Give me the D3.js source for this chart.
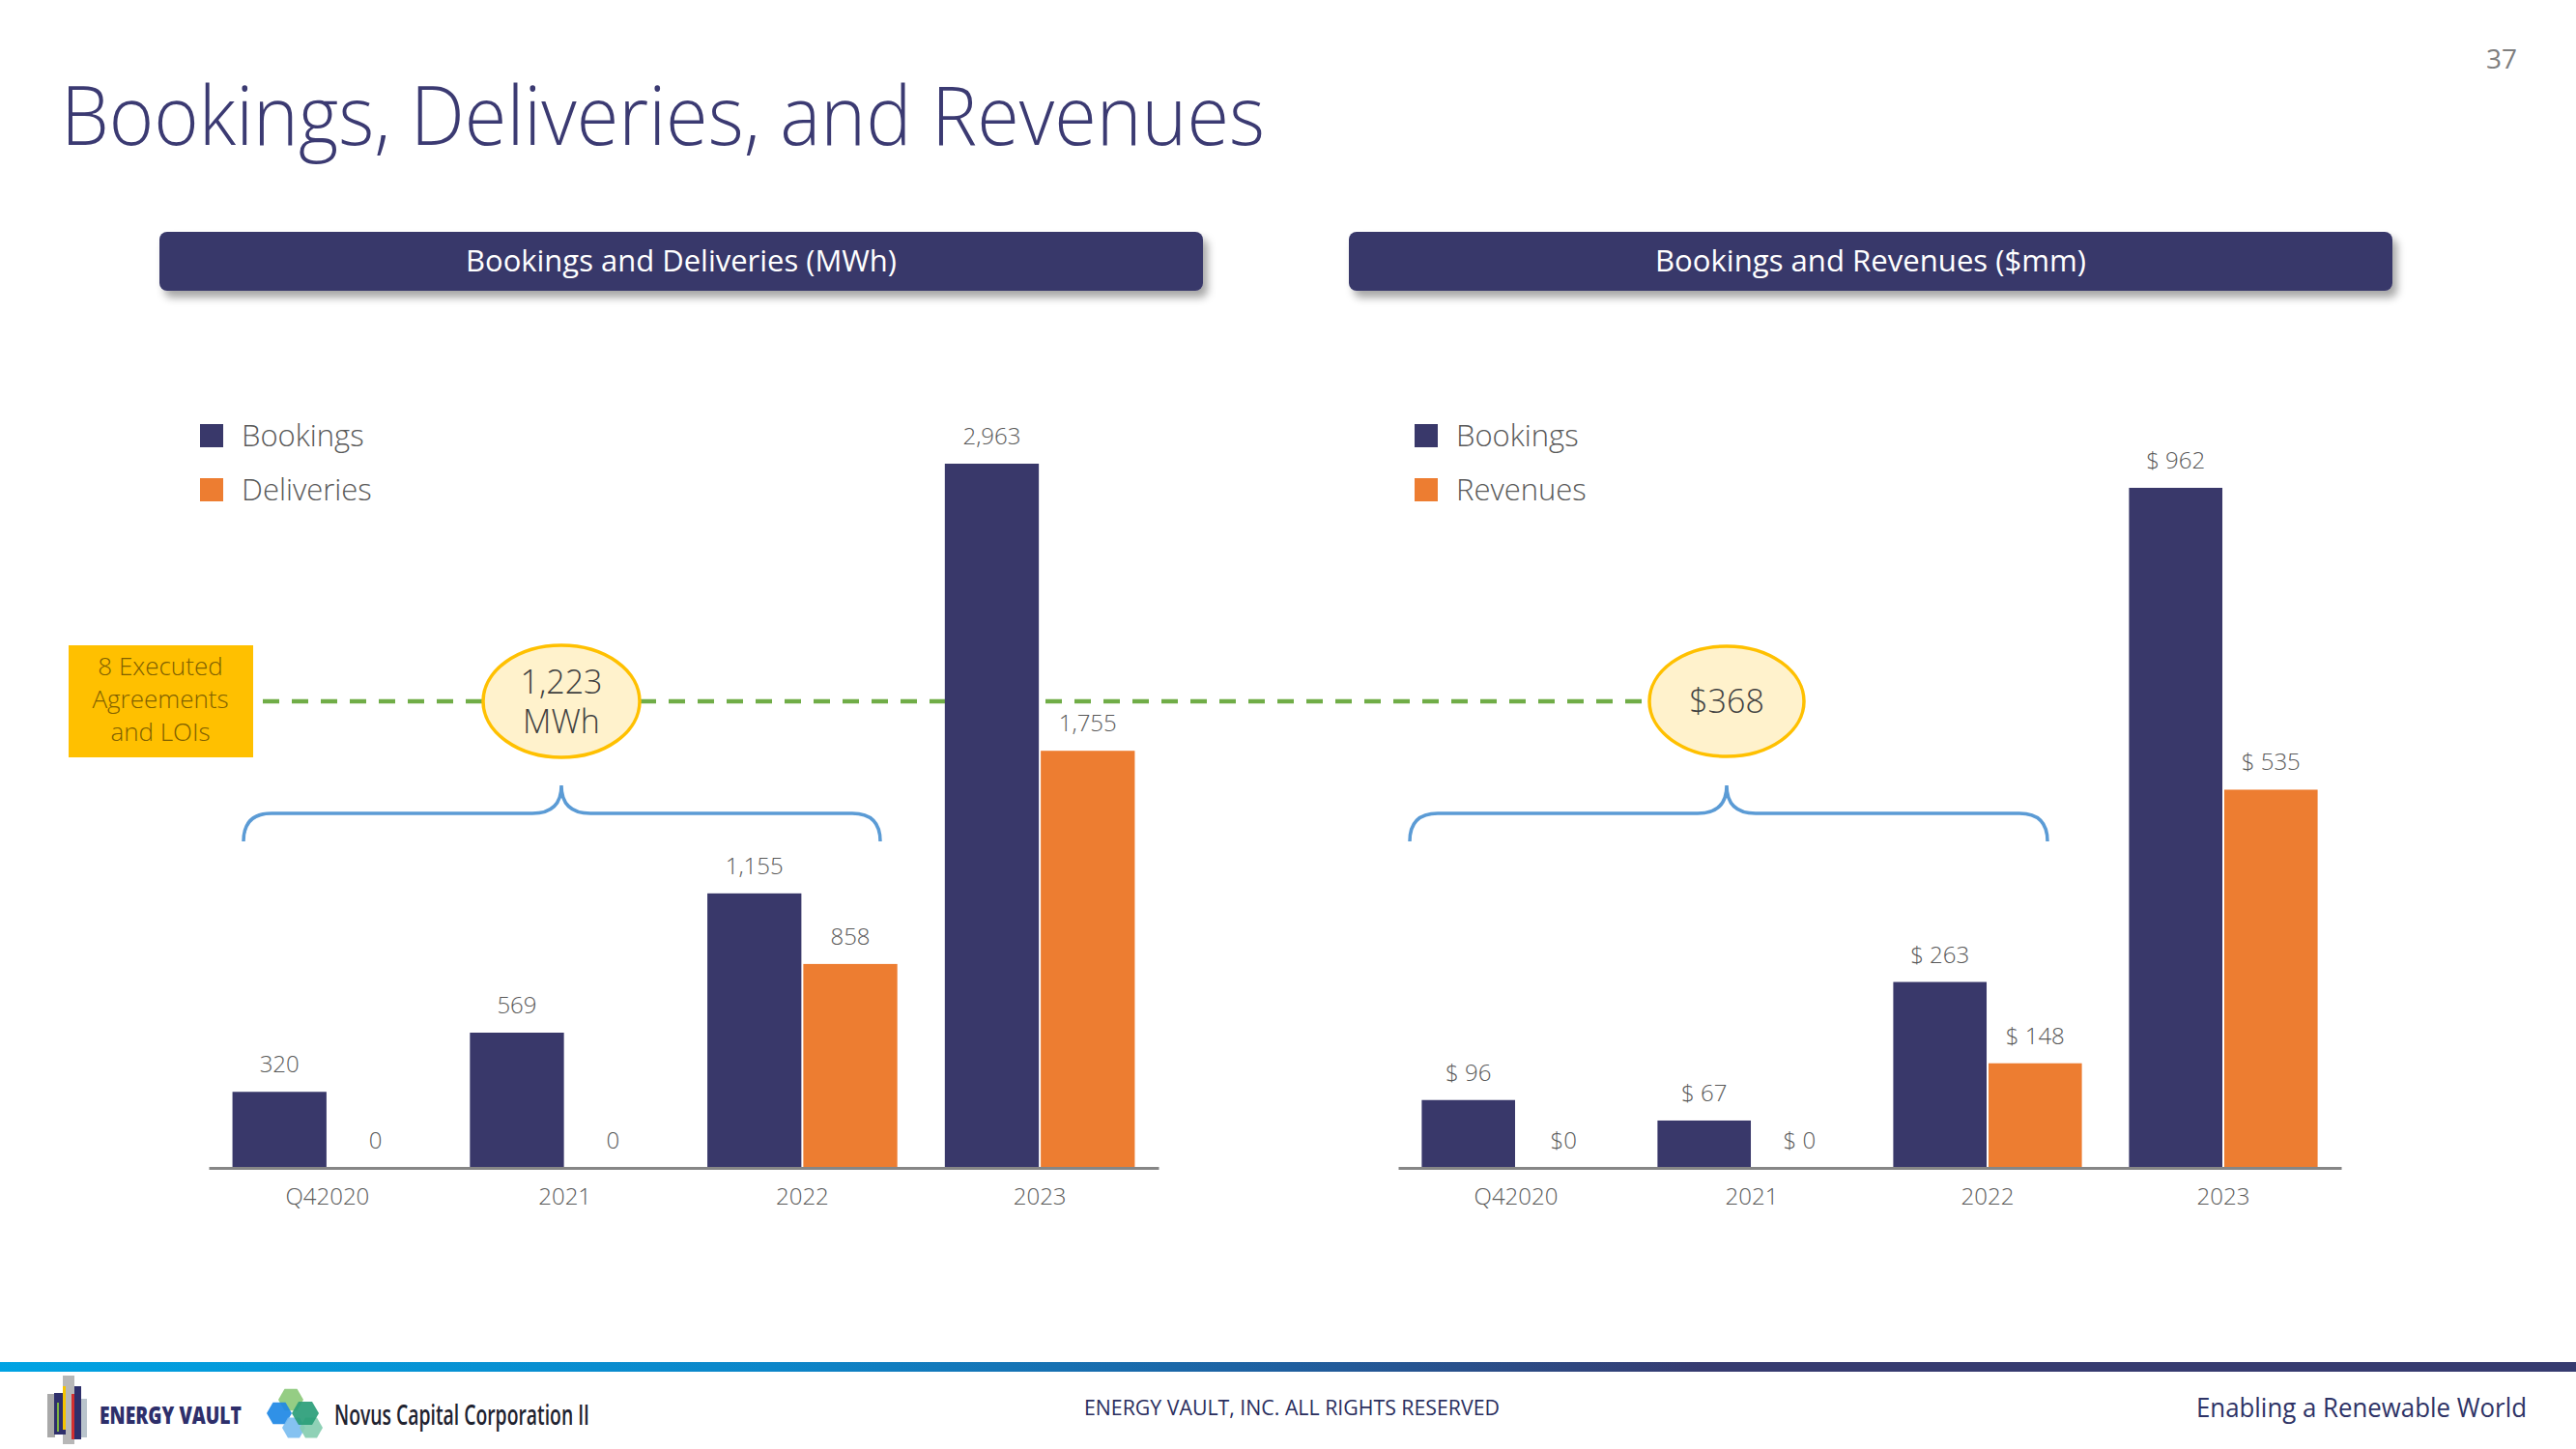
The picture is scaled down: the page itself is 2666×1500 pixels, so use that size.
<!DOCTYPE html>
<html>
<head>
<meta charset="utf-8">
<script src="https://cdn.jsdelivr.net/npm/d3@7"></script>
<style>
  html, body { margin: 0; padding: 0; background: #ffffff; }
  svg { display: block; font-family: "Open Sans", "Noto Sans", sans-serif; }
</style>
</head>
<body>
<svg id="chart" width="2666" height="1500"></svg>
<script>
// ---------------- DATA ----------------
const categories = ["Q42020", "2021", "2022", "2023"];
const seriesKeys = ["bookings", "second"];

const mwhBookings = [320, 569, 1155, 2963];
const mwhDeliveries = [0, 0, 858, 1755];

const usdBookings = [96, 67, 263, 962];
const usdRevenues = [0, 0, 148, 535];
const usdBookingLabels = ["$ 96", "$ 67", "$ 263", "$ 962"];
const usdRevenueLabels = ["$0", "$ 0", "$ 148", "$ 535"];

const leftLegend = ["Bookings", "Deliveries"];
const rightLegend = ["Bookings", "Revenues"];

const pageTitle = "Bookings, Deliveries, and Revenues";
const leftHeader = "Bookings and Deliveries (MWh)";
const rightHeader = "Bookings and Revenues ($mm)";
const executedLines = ["8 Executed", "Agreements", "and LOIs"];
const mwhBubble = ["1,223", "MWh"];
const usdBubble = ["$368"];

// ---------------- STYLE ----------------
const NAVY = "#39386a";
const ORANGE = "#ed7d31";
const LABEL = "#595959";

const svg = d3.select("#chart");
const defs = svg.append("defs");

const shadow = defs.append("filter").attr("id", "shadow")
  .attr("x", "-5%").attr("y", "-30%").attr("width", "115%").attr("height", "190%");
shadow.append("feDropShadow").attr("dx", 5).attr("dy", 7).attr("stdDeviation", 4)
  .attr("flood-color", "#000").attr("flood-opacity", 0.35);

const grad = defs.append("linearGradient").attr("id", "footerGrad")
  .attr("x1", "0%").attr("x2", "100%").attr("y1", "0%").attr("y2", "0%");
[["0%", "#00a3e3"], ["30%", "#0c86c9"], ["50%", "#1f5f9f"], ["66%", "#363b70"], ["100%", "#363b70"]]
  .forEach(([o, c]) => grad.append("stop").attr("offset", o).attr("stop-color", c));

// ---------------- TITLE ----------------
svg.append("text")
  .attr("x", 63).attr("y", 150)
  .attr("font-size", 84).attr("font-weight", 300)
  .attr("fill", "#3b3a72")
  .attr("textLength", 1246).attr("lengthAdjust", "spacingAndGlyphs")
  .text(pageTitle);

svg.append("text")
  .attr("x", 2605).attr("y", 71).attr("text-anchor", "end")
  .attr("font-size", 28).attr("fill", "#7f7f7f")
  .text("37");

// ---------------- HEADER BOXES ----------------
function headerBox(x, w, label) {
  svg.append("rect").attr("x", x).attr("y", 240).attr("width", w).attr("height", 61)
    .attr("rx", 8).attr("fill", NAVY).attr("filter", "url(#shadow)");
  svg.append("text").attr("x", x + w / 2).attr("y", 281)
    .attr("text-anchor", "middle").attr("font-size", 31).attr("fill", "#ffffff")
    .attr("textLength", 446).attr("lengthAdjust", "spacingAndGlyphs")
    .text(label);
}
headerBox(165, 1080, leftHeader);
headerBox(1396, 1080, rightHeader);

// ---------------- ANNOTATION BACK LAYER (dashed line) ----------------
const annBack = svg.append("g");
annBack.append("line")
  .attr("x1", 272).attr("x2", 1707).attr("y1", 726).attr("y2", 726)
  .attr("stroke", "#70ad47").attr("stroke-width", 4.5)
  .attr("stroke-dasharray", "17,13");

// ---------------- CHART FUNCTION ----------------
function drawChart(opts) {
  const g = svg.append("g");
  const data = categories.map((c, i) => ({
    cat: c,
    vals: [
      { key: "bookings", v: opts.s1[i], label: opts.l1[i], color: NAVY },
      { key: "second", v: opts.s2[i], label: opts.l2[i], color: ORANGE }
    ]
  }));

  const x0 = d3.scaleBand().domain(categories).range([opts.x0, opts.x1])
    .paddingInner(0.2).paddingOuter(0.1);
  const x1 = d3.scaleBand().domain(seriesKeys).range([0, x0.bandwidth()]).paddingInner(0.02);
  const y = d3.scaleLinear().domain([0, d3.max(opts.s1)]).range([opts.base, opts.top]);

  const groups = g.selectAll("g.grp").data(data).join("g")
    .attr("class", "grp")
    .attr("transform", d => `translate(${x0(d.cat)},0)`);

  groups.selectAll("rect").data(d => d.vals).join("rect")
    .attr("x", d => x1(d.key))
    .attr("y", d => y(d.v))
    .attr("width", x1.bandwidth())
    .attr("height", d => opts.base - y(d.v))
    .attr("fill", d => d.color);

  groups.selectAll("text.val").data(d => d.vals).join("text")
    .attr("class", "val")
    .attr("x", d => x1(d.key) + x1.bandwidth() / 2)
    .attr("y", d => y(d.v) - 20)
    .attr("text-anchor", "middle")
    .attr("font-size", 24).attr("font-weight", 300).attr("fill", LABEL)
    .text(d => d.label);

  const axis = g.append("g").attr("transform", `translate(0,${opts.base})`)
    .call(d3.axisBottom(x0).tickSize(0).tickSizeOuter(0).tickPadding(21));
  axis.select(".domain").attr("stroke", "#868686").attr("stroke-width", 3);
  axis.selectAll(".tick text").attr("font-size", 24).attr("font-weight", 300).attr("fill", LABEL)
    .attr("font-family", "'Open Sans', 'Noto Sans', sans-serif");

  // legend
  const lg = g.append("g");
  opts.legend.forEach((name, i) => {
    const yy = 451 + i * 56;
    lg.append("rect").attr("x", opts.legendX).attr("y", yy - 12).attr("width", 24).attr("height", 24)
      .attr("fill", i === 0 ? NAVY : ORANGE);
    lg.append("text").attr("x", opts.legendX + 43).attr("y", yy + 11)
      .attr("font-size", 31).attr("font-weight", 300).attr("fill", LABEL).text(name);
  });
}

drawChart({
  x0: 216, x1: 1199, base: 1209, top: 480,
  s1: mwhBookings, s2: mwhDeliveries,
  l1: mwhBookings.map(d3.format(",")), l2: mwhDeliveries.map(d3.format(",")),
  legend: leftLegend, legendX: 207
});

drawChart({
  x0: 1447, x1: 2423, base: 1209, top: 505,
  s1: usdBookings, s2: usdRevenues,
  l1: usdBookingLabels, l2: usdRevenueLabels,
  legend: rightLegend, legendX: 1464
});

// ---------------- ANNOTATIONS (front) ----------------
const ann = svg.append("g");

// executed agreements box
ann.append("rect").attr("x", 71).attr("y", 668).attr("width", 191).attr("height", 116)
  .attr("fill", "#ffc000");
executedLines.forEach((t, i) => {
  ann.append("text").attr("x", 166).attr("y", 699 + i * 34)
    .attr("text-anchor", "middle").attr("font-size", 26).attr("font-weight", 300).attr("fill", "#7f6000")
    .text(t);
});

// bubbles
function bubble(cx, cy, rx, ry, lines) {
  ann.append("ellipse").attr("cx", cx).attr("cy", cy).attr("rx", rx).attr("ry", ry)
    .attr("fill", "#fff2cc").attr("stroke", "#ffc000").attr("stroke-width", 3.5);
  const n = lines.length;
  lines.forEach((t, i) => {
    ann.append("text").attr("x", cx).attr("y", cy + (i - (n - 1) / 2) * 41 + 12)
      .attr("text-anchor", "middle").attr("font-size", 34).attr("font-weight", 300).attr("fill", "#404040")
      .text(t);
  });
}
bubble(581, 726, 81, 58, mwhBubble);
bubble(1787, 726, 80, 57, usdBubble);

// braces
function brace(xl, xm, xr, yTip, yArm, yEnd) {
  const r = 29;
  const p = `M${xl},${yEnd} Q${xl},${yArm} ${xl + r},${yArm} L${xm - 30},${yArm} ` +
    `Q${xm},${yArm} ${xm},${yTip} Q${xm},${yArm} ${xm + 30},${yArm} L${xr - r},${yArm} ` +
    `Q${xr},${yArm} ${xr},${yEnd}`;
  ann.append("path").attr("d", p).attr("fill", "none")
    .attr("stroke", "#5b9bd5").attr("stroke-width", 3.5);
}
brace(252, 581, 911, 813, 842, 871);
brace(1459, 1787, 2119, 813, 842, 871);

// ---------------- FOOTER ----------------
const foot = svg.append("g");
foot.append("rect").attr("x", 0).attr("y", 1410).attr("width", 2666).attr("height", 10)
  .attr("fill", "url(#footerGrad)");

// Energy Vault logo mark
const evBars = [
  [65, 1424, 12, 71, "#b7b7b7"],
  [49, 1443, 8, 45, "#a9a9a9"],
  [56, 1442, 12, 43, "#2e2f6b"],
  [59, 1452, 2, 30, "#7cb342"],
  [65, 1435, 3, 45, "#f5c400"],
  [74, 1443, 4, 47, "#d32f2f"],
  [77, 1435, 7, 55, "#2e2f6b"],
  [84, 1448, 6, 40, "#b9c4cc"]
];
evBars.forEach(([x, y, w, h, c]) => foot.append("rect")
  .attr("x", x).attr("y", y).attr("width", w).attr("height", h).attr("fill", c));
foot.append("text").attr("x", 103).attr("y", 1474)
  .attr("font-size", 24).attr("font-weight", 800).attr("fill", "#2e2f6b")
  .attr("textLength", 147).attr("lengthAdjust", "spacingAndGlyphs")
  .text("ENERGY VAULT");

// Novus logo mark
function hex(cx, cy, r) {
  return d3.range(6).map(k => {
    const a = Math.PI / 3 * k;
    return [cx + r * Math.cos(a), cy + r * Math.sin(a)].join(",");
  }).join(" ");
}
[[301, 1449, 13, "#8cc97a"], [289, 1463, 13, "#1e88e5"], [304, 1478, 12, "#7bbdf0"],
 [322, 1478, 12, "#86cdb0"], [316, 1463, 14, "#2a9d78"]].forEach(([cx, cy, r, c]) =>
  foot.append("polygon").attr("points", hex(cx, cy, r)).attr("fill", c).attr("opacity", 0.92));
foot.append("text").attr("x", 346).attr("y", 1475)
  .attr("font-size", 29).attr("font-weight", 600).attr("fill", "#1f2330")
  .attr("textLength", 264).attr("lengthAdjust", "spacingAndGlyphs")
  .text("Novus Capital Corporation II");

foot.append("text").attr("x", 1337).attr("y", 1465).attr("text-anchor", "middle")
  .attr("font-size", 21).attr("fill", "#2a2e5e")
  .attr("textLength", 430).attr("lengthAdjust", "spacingAndGlyphs")
  .text("ENERGY VAULT, INC. ALL RIGHTS RESERVED");

foot.append("text").attr("x", 2615).attr("y", 1467).attr("text-anchor", "end")
  .attr("font-size", 28).attr("fill", "#2e3366")
  .attr("textLength", 342).attr("lengthAdjust", "spacingAndGlyphs")
  .text("Enabling a Renewable World");
</script>
</body>
</html>
